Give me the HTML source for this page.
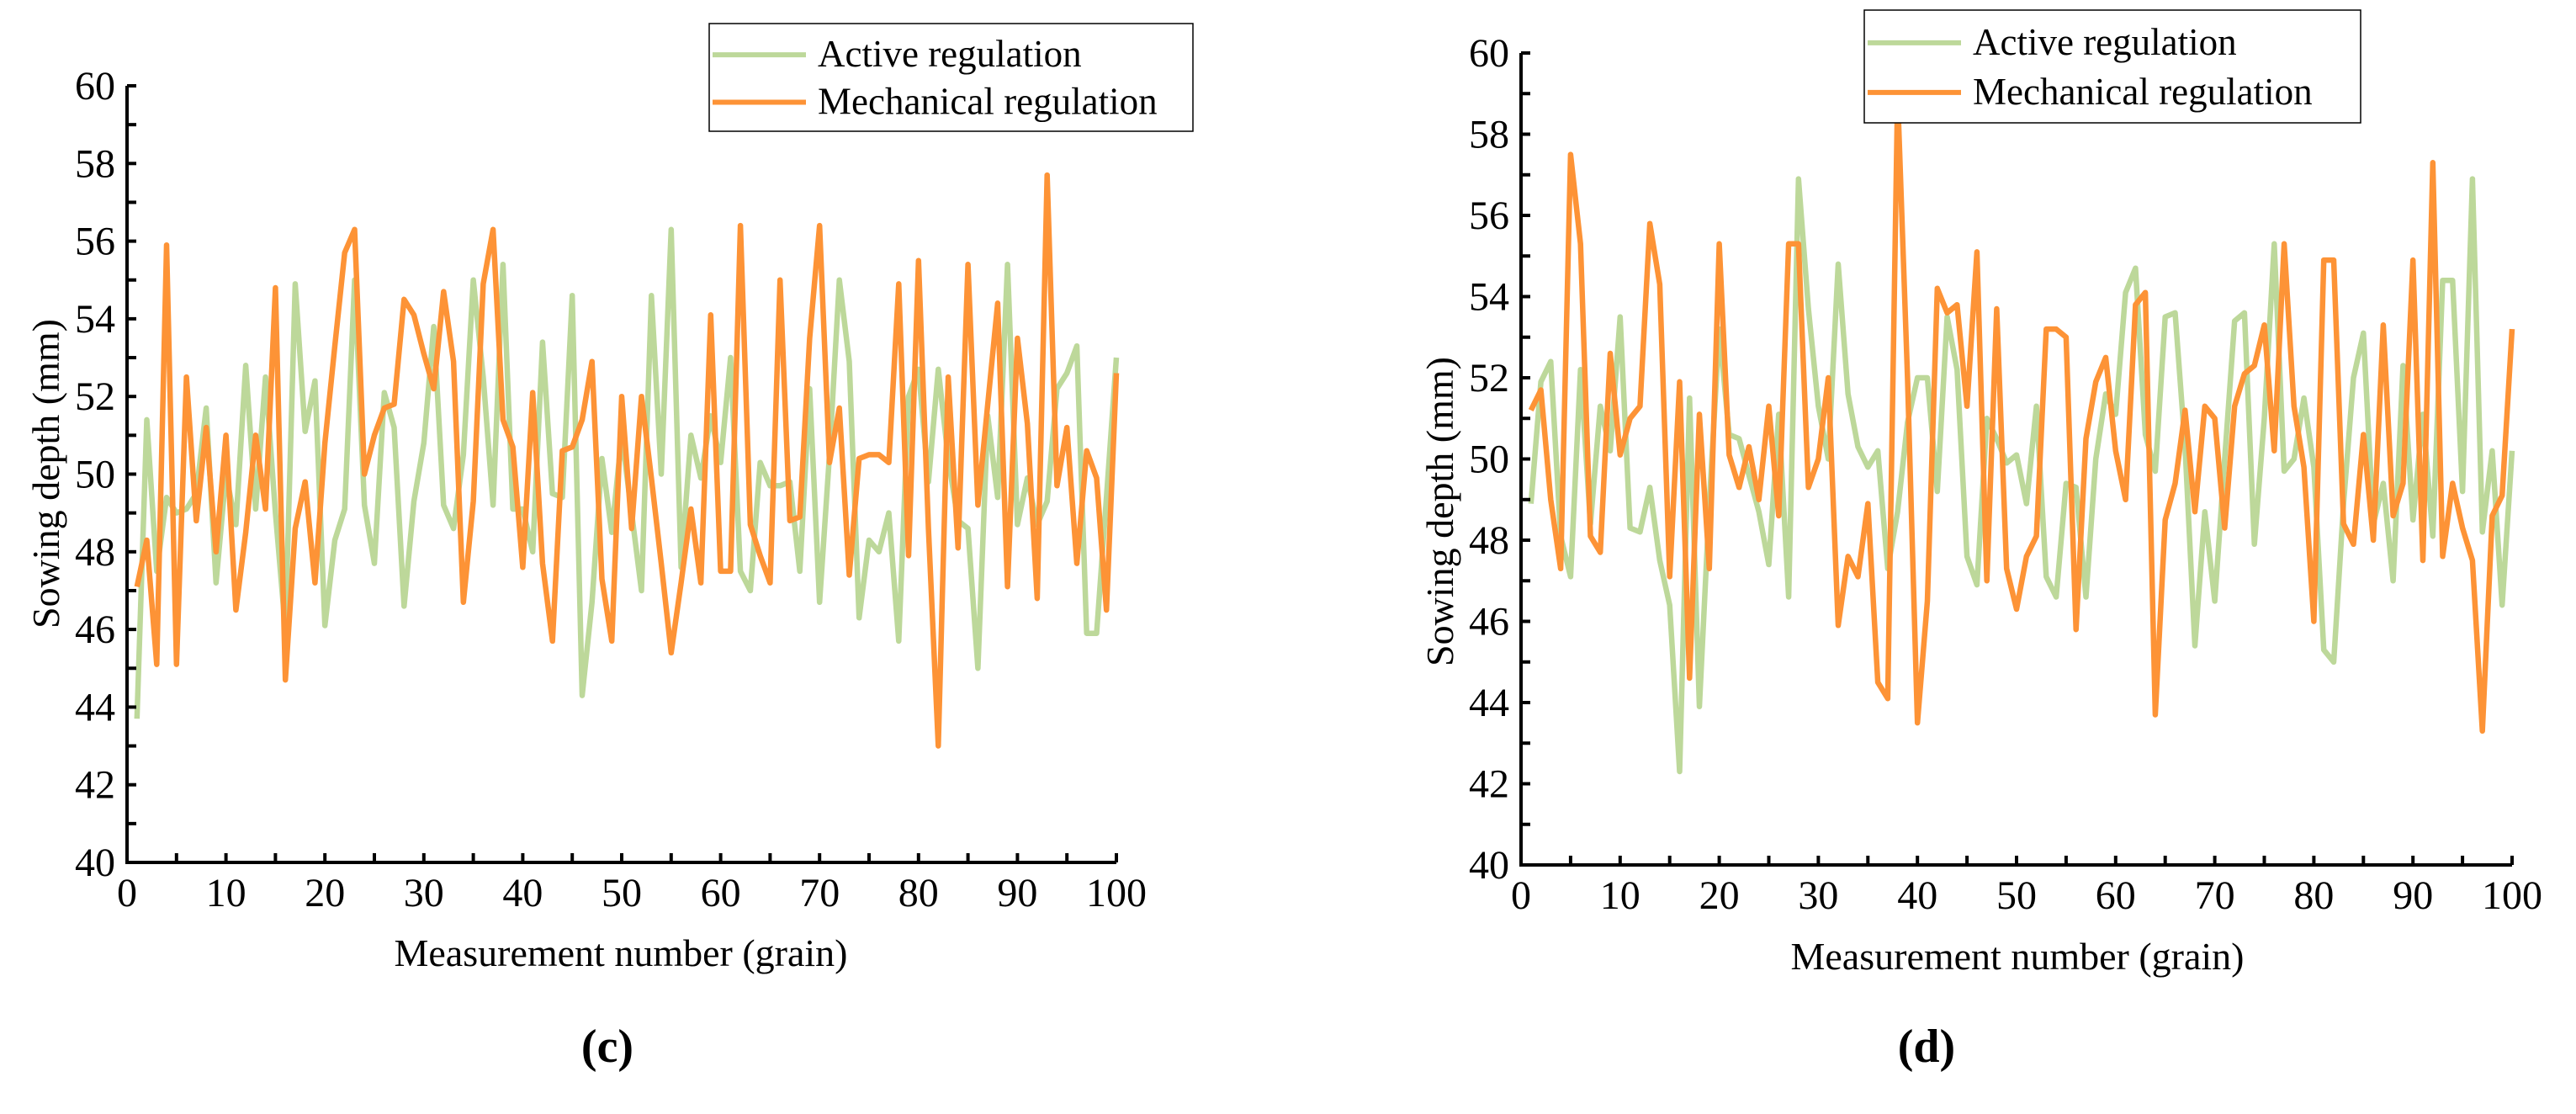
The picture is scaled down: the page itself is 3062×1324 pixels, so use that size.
<!DOCTYPE html>
<html><head><meta charset="utf-8"><style>
html,body{margin:0;padding:0;background:#fff;}
svg{display:block;}
svg text{font-family:"Liberation Serif","Times New Roman",serif;}
</style></head><body>
<svg id="fig" width="3062" height="1324" viewBox="0 0 3062 1324" xmlns="http://www.w3.org/2000/svg" font-family="Liberation Serif, serif"></svg>
<script>
const xTicks=[0,10,20,30,40,50,60,70,80,90,100];
const yTicks=[40,42,44,46,48,50,52,54,56,58,60];
const activeC=[43.7,51.4,47.5,49.4,49.0,49.1,49.5,51.7,47.2,50.0,48.7,52.8,49.1,52.5,49.0,46.0,54.9,51.1,52.4,46.1,48.3,49.1,55.0,49.2,47.7,52.1,51.2,46.6,49.3,50.8,53.8,49.2,48.6,50.5,55.0,52.5,49.2,55.4,49.1,49.1,48.0,53.4,49.5,49.4,54.6,44.3,46.7,50.4,48.5,51.0,49.0,47.0,54.6,50.0,56.3,47.6,51.0,49.9,51.5,50.3,53.0,47.5,47.0,50.3,49.7,49.7,49.8,47.5,52.2,46.7,50.5,55.0,52.9,46.3,48.3,48.0,49.0,45.7,52.0,52.7,49.8,52.7,50.4,48.8,48.6,45.0,51.5,49.4,55.4,48.7,49.9,48.7,49.3,52.2,52.6,53.3,45.9,45.9,49.4,53.0];
const mechC=[47.1,48.3,45.1,55.9,45.1,52.5,48.8,51.2,48.0,51.0,46.5,48.5,51.0,49.1,54.8,44.7,48.6,49.8,47.2,50.8,53.3,55.7,56.3,50.0,51.0,51.7,51.8,54.5,54.1,53.1,52.2,54.7,52.9,46.7,49.3,54.9,56.3,51.4,50.7,47.6,52.1,47.7,45.7,50.6,50.7,51.4,52.9,47.3,45.7,52.0,48.6,52.0,49.9,47.7,45.4,47.2,49.1,47.2,54.1,47.5,47.5,56.4,48.7,47.9,47.2,55.0,48.8,48.9,53.5,56.4,50.3,51.7,47.4,50.4,50.5,50.5,50.3,54.9,47.9,55.5,48.6,43.0,52.5,48.1,55.4,49.2,51.8,54.4,47.1,53.5,51.3,46.8,57.7,49.7,51.2,47.7,50.6,49.9,46.5,52.6];
const activeD=[48.9,51.9,52.4,48.1,47.1,52.2,48.4,51.3,50.2,53.5,48.3,48.2,49.3,47.5,46.4,42.3,51.5,43.9,48.9,53.2,50.6,50.5,49.6,48.7,47.4,51.1,46.6,56.9,53.7,51.3,50.0,54.8,51.6,50.3,49.8,50.2,47.3,48.7,50.9,52.0,52.0,49.2,53.5,52.2,47.6,46.9,51.0,50.5,49.9,50.1,48.9,51.3,47.1,46.6,49.4,49.3,46.6,50.0,51.6,51.1,54.1,54.7,50.6,49.7,53.5,53.6,50.3,45.4,48.7,46.5,50.0,53.4,53.6,47.9,51.0,55.3,49.7,50.0,51.5,49.8,45.3,45.0,48.9,52.0,53.1,48.4,49.4,47.0,52.3,48.5,51.1,48.1,54.4,54.4,49.2,56.9,48.2,50.2,46.4,50.2];
const mechD=[51.2,51.7,49.0,47.3,57.5,55.3,48.1,47.7,52.6,50.1,51.0,51.3,55.8,54.3,47.1,51.9,44.6,51.1,47.3,55.3,50.1,49.3,50.3,49.0,51.3,48.6,55.3,55.3,49.3,50.0,52.0,45.9,47.6,47.1,48.9,44.5,44.1,59.0,52.0,43.5,46.5,54.2,53.6,53.8,51.3,55.1,47.0,53.7,47.3,46.3,47.6,48.1,53.2,53.2,53.0,45.8,50.5,51.9,52.5,50.2,49.0,53.8,54.1,43.7,48.5,49.4,51.2,48.7,51.3,51.0,48.3,51.3,52.1,52.3,53.3,50.2,55.3,51.3,49.8,46.0,54.9,54.9,48.4,47.9,50.6,48.0,53.3,48.6,49.4,54.9,47.5,57.3,47.6,49.4,48.3,47.5,43.3,48.6,49.1,53.2];

const NS="http://www.w3.org/2000/svg";
const svg=document.getElementById('fig');
function mk(tag,attrs,parent,text){const e=document.createElementNS(NS,tag);for(const k in attrs)e.setAttribute(k,attrs[k]);if(text!==undefined)e.textContent=text;(parent||svg).appendChild(e);return e;}

function panel(p){
  const g=mk('g',{});
  
  
  const sx=v=>p.x0+(v-0)/100*(p.x1-p.x0);
  const sy=v=>p.y0-(v-40)/20*(p.y0-p.y1);
  const series=[{d:p.active,c:'#bdd89a',n:'active-regulation-line'},{d:p.mech,c:'#fd9336',n:'mechanical-regulation-line'}];
  series.forEach(s=>{
    const pts=s.d.map((v,i)=>sx(i+1).toFixed(1)+','+sy(v).toFixed(1)).join(' ');
    const l=mk('polyline',{points:pts,fill:'none',stroke:s.c,'stroke-width':6.5,'stroke-linejoin':'round'},g);
    
    
  });
  const ax=mk('path',{d:`M${p.x0},${p.y1} V${p.y0} H${p.x1}`,fill:'none',stroke:'#000','stroke-width':4},g);
  
  
  for(let v=0;v<=100;v+=5){const x=sx(v);mk('line',{x1:x,x2:x,y1:p.y0,y2:p.y0-11,stroke:'#000','stroke-width':4},g);}
  for(let v=40;v<=60;v+=1){const y=sy(v);mk('line',{x1:p.x0,x2:p.x0+11,y1:y,y2:y,stroke:'#000','stroke-width':4},g);}
  xTicks.forEach(v=>{const t=mk('text',{x:sx(v),y:p.y0+52,'text-anchor':'middle','font-size':48},g,String(v));
    
    });
  yTicks.forEach(v=>{const t=mk('text',{x:p.x0-14,y:sy(v)+16,'text-anchor':'end','font-size':48},g,String(v));
    
    });
  const xt=mk('text',{x:p.xtx,y:p.xty,'text-anchor':'middle','font-size':46},g,'Measurement number (grain)');
  
  
  const yt=mk('text',{x:0,y:0,'text-anchor':'middle','font-size':46,transform:`translate(${p.ytx},${p.yty}) rotate(-90)`},g,'Sowing depth (mm)');
  
  
  const lg=mk('g',{},g);
  
  
  mk('rect',{x:p.lx,y:p.ly,width:p.lw,height:p.lh,fill:'#fff',stroke:'#000','stroke-width':1.5},lg);
  const rows=[{c:'#bdd89a',t:'Active regulation'},{c:'#fd9336',t:'Mechanical regulation'}];
  rows.forEach((r,i)=>{
    const cy=p.ly+p.lh*(0.29+0.44*i);
    const e=mk('g',{},lg);
    
    
    mk('line',{x1:p.lx+4,x2:p.lx+115,y1:cy,y2:cy,stroke:r.c,'stroke-width':6},e);
    mk('text',{x:p.lx+129,y:cy+14,'font-size':45},e,r.t);
  });
  const pl=mk('text',{x:p.plx,y:1262,'text-anchor':'middle','font-size':56,'font-weight':'bold'},g,p.label);
  
  
}

panel({id:'c',x0:151,x1:1327,y0:1025,y1:102,active:activeC,mech:mechC,xtx:738,xty:1148,ytx:70,yty:563,lx:843,ly:28,lw:575,lh:128,plx:722,label:'(c)'});
panel({id:'d',x0:1808,x1:2986,y0:1028,y1:63,active:activeD,mech:mechD,xtx:2398,xty:1152,ytx:1727,yty:608,lx:2216,ly:12,lw:590,lh:134,plx:2290,label:'(d)'});
</script>
</body></html>
